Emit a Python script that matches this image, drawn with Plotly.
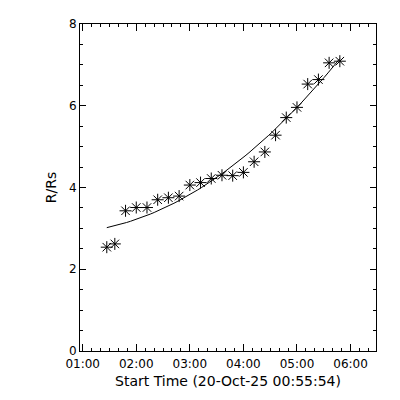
import numpy as np
import pandas as pd
import plotly.graph_objects as go

date = "2025-10-20"
times = ["01:27", "01:36", "01:48", "02:00", "02:12", "02:24", "02:36", "02:48",
         "03:00", "03:12", "03:24", "03:36", "03:48", "04:00", "04:12", "04:24",
         "04:36", "04:48", "05:00", "05:12", "05:24", "05:36", "05:48"]
heights = [2.54, 2.62, 3.43, 3.51, 3.51, 3.70, 3.75, 3.79,
           4.06, 4.12, 4.22, 4.30, 4.29, 4.37, 4.63, 4.87,
           5.28, 5.71, 5.96, 6.53, 6.64, 7.05, 7.09]
y_ticks = [0, 2, 4, 6, 8]

t = pd.to_datetime([f"{date} {s}" for s in times])
hrs = np.array([(x - t[0]).total_seconds() / 3600 for x in t])
coef = np.polyfit(hrs, heights, 2)
fit_h = np.linspace(hrs[0], hrs[-1], 60)
fit_t = [t[0] + pd.Timedelta(hours=float(h)) for h in fit_h]
fit_v = np.polyval(coef, fit_h)

fig = go.Figure()
fig.add_trace(go.Scatter(x=fit_t, y=fit_v, mode="lines",
                         line=dict(color="black", width=1), showlegend=False))
fig.add_trace(go.Scatter(x=t, y=heights, mode="markers",
                         marker=dict(symbol="asterisk-open", size=10, color="black",
                                     line=dict(color="black", width=1)),
                         showlegend=False))

font = dict(family="DejaVu Sans", size=12, color="black")
fig.update_layout(
    width=392, height=392,
    margin=dict(l=72, r=24, t=16, b=49),
    paper_bgcolor="white", plot_bgcolor="white",
    font=font,
    xaxis=dict(
        type="date", automargin=False,
        range=[f"{date} 00:57:00", f"{date} 06:28:30"],
        tick0=f"{date} 01:00", dtick=3600000, tickformat="%H:%M",
        ticks="inside", ticklen=7, tickcolor="black", tickwidth=1,
        ticklabelstandoff=2,
        minor=dict(dtick=600000, ticks="inside", ticklen=3, tickcolor="black"),
        showline=True, linecolor="black", linewidth=1, mirror="allticks",
        showgrid=False, zeroline=False,
        title=dict(text="Start Time (20-Oct-25 00:55:54)", standoff=5),
    ),
    yaxis=dict(
        range=[0, 8], tickvals=y_ticks, ticktext=[str(v) for v in y_ticks],
        automargin=False,
        ticks="inside", ticklen=6, tickcolor="black", tickwidth=1,
        minor=dict(dtick=0.5, ticks="inside", ticklen=3, tickcolor="black"),
        showline=True, linecolor="black", linewidth=1, mirror="allticks",
        showgrid=False, zeroline=False,
        title=dict(text="R/Rs", standoff=9),
    ),
)

fig.write_html("out.html")
